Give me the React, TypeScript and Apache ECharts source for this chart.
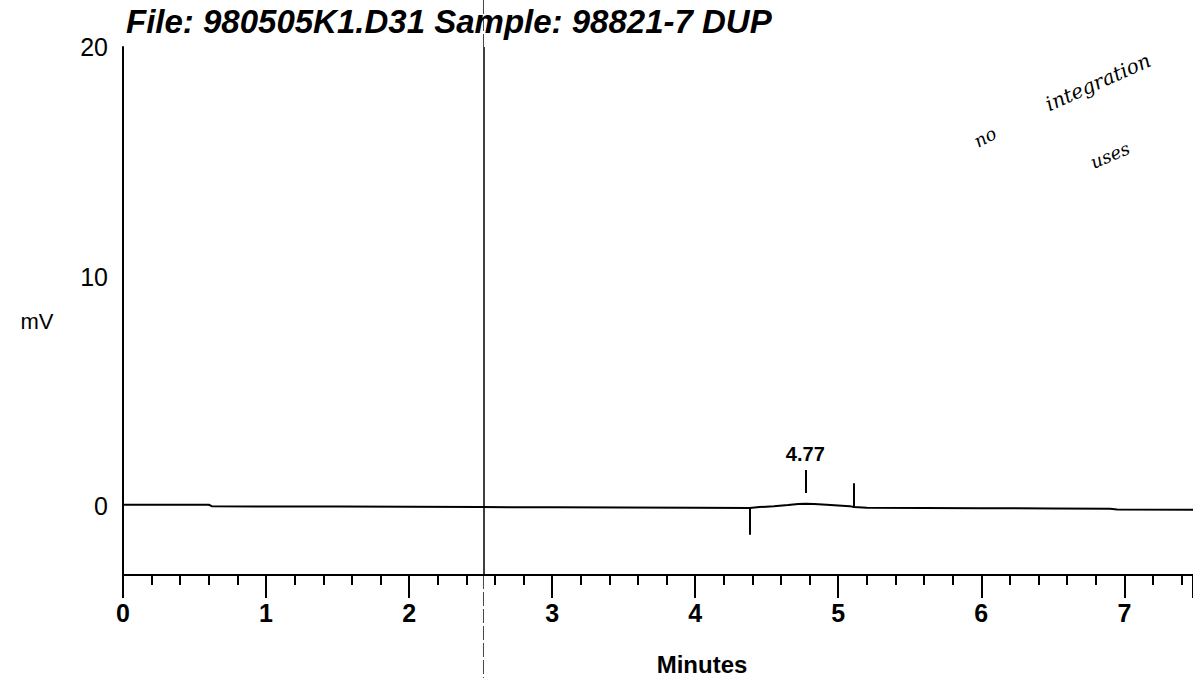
import React, { useEffect, useRef } from "react";
import * as echarts from "echarts";

const titleText = "File: 980505K1.D31 Sample: 98821-7 DUP";
const xAxisName = "Minutes";
const yAxisName = "mV";
const yLabelValues = [0, 10, 20];
const xMin = 0;
const xMax = 7.48;
const yMin = -3;
const yMax = 20;

// Chromatogram trace (minutes, mV)
const traceTimes = [0, 0.6, 0.62, 1.0, 1.5, 2.0, 2.5, 3.0, 3.5, 4.0, 4.38, 4.45, 4.55, 4.65, 4.72, 4.77, 4.83, 4.92, 5.0, 5.08, 5.11, 5.2, 5.6, 6.0, 6.5, 6.9, 6.95, 7.48];
const traceValues = [0.06, 0.06, 0.0, -0.02, -0.02, -0.03, -0.04, -0.05, -0.06, -0.07, -0.08, -0.04, 0.0, 0.05, 0.09, 0.1, 0.09, 0.06, 0.03, 0.0, -0.04, -0.07, -0.08, -0.09, -0.1, -0.11, -0.15, -0.16];

// Integration markers: time, bottom, top
const peakTime = [4.77];
const peakMarkFrom = [0.57];
const peakMarkTo = [1.57];
const peakLabels = ["4.77"];
const baselineMarkTimes = [4.38, 5.11];
const baselineMarkFrom = [-0.08, -0.06];
const baselineMarkTo = [-1.25, 1.0];

// Injection / event line
const eventTime = 2.52;

const handwritten = ["no", "integration", "uses"];

export default function App() {
  const ref = useRef<HTMLDivElement>(null);
  useEffect(() => {
    if (!ref.current) return;
    const chart = echarts.init(ref.current, null, { renderer: "svg" });
    const font = "'Liberation Sans', Arial, sans-serif";

    const markData: any[] = [];
    peakTime.forEach((t, i) => {
      markData.push([
        { coord: [t, peakMarkFrom[i]] },
        {
          coord: [t, peakMarkTo[i]],
          label: {
            show: true,
            position: "end",
            formatter: peakLabels[i],
            color: "#000",
            fontFamily: font,
            fontWeight: "bold",
            fontSize: 20,
            distance: 6,
          },
        },
      ]);
    });
    baselineMarkTimes.forEach((t, i) => {
      markData.push([{ coord: [t, baselineMarkFrom[i]] }, { coord: [t, baselineMarkTo[i]], label: { show: false } }]);
    });

    chart.setOption({
      animation: false,
      backgroundColor: "#fff",
      title: {
        text: titleText,
        left: 121,
        top: 0,
        textStyle: {
          fontFamily: font,
          fontStyle: "italic",
          fontWeight: "bold",
          fontSize: 33,
          color: "#000",
        },
      },
      grid: { left: 123, right: 0, top: 47, bottom: 103, containLabel: false },
      xAxis: {
        type: "value",
        min: xMin,
        max: xMax,
        interval: 1,
        axisLine: { show: true, onZero: false, lineStyle: { color: "#000", width: 2 } },
        axisTick: { show: true, inside: false, length: 23, lineStyle: { color: "#000", width: 2 } },
        minorTick: { show: true, splitNumber: 5, length: 10, lineStyle: { color: "#000", width: 2 } },
        splitLine: { show: false },
        minorSplitLine: { show: false },
        axisLabel: {
          color: "#000",
          fontFamily: font,
          fontWeight: "bold",
          fontSize: 25,
          margin: 25,
          showMaxLabel: false,
        },
      },
      yAxis: {
        type: "value",
        min: yMin,
        max: yMax,
        axisLine: { show: true, onZero: false, lineStyle: { color: "#000", width: 2 } },
        axisTick: { show: false },
        splitLine: { show: false },
        axisLabel: {
          customValues: yLabelValues,
          color: "#000",
          fontFamily: font,
          fontSize: 25,
          margin: 15,
        },
      },
      series: [
        {
          type: "line",
          data: traceTimes.map((t, i) => [t, traceValues[i]]),
          symbol: "none",
          lineStyle: { color: "#000", width: 2 },
          markLine: {
            silent: true,
            symbol: ["none", "none"],
            lineStyle: { color: "#000", width: 2, type: "solid" },
            label: { show: false },
            data: [
              ...markData,
              { xAxis: eventTime, lineStyle: { color: "#000", width: 1.5, type: "solid" }, label: { show: false } },
            ],
          },
        },
      ],
    });

    const ex = chart.convertToPixel({ gridIndex: 0 }, [eventTime, 0])[0];
    const top = chart.convertToPixel({ gridIndex: 0 }, [0, yMax])[1];
    const bottom = chart.convertToPixel({ gridIndex: 0 }, [0, yMin])[1];
    const hwFont = "'DejaVu Serif', serif";
    chart.setOption({
      graphic: [
        {
          type: "line",
          shape: { x1: ex, y1: 0, x2: ex, y2: top },
          style: { stroke: "#444", lineWidth: 1, lineDash: [14, 3] },
        },
        {
          type: "line",
          shape: { x1: ex, y1: bottom, x2: ex, y2: 678 },
          style: { stroke: "#444", lineWidth: 1, lineDash: [14, 3] },
        },
        {
          type: "text",
          x: 37,
          y: 321,
          style: { text: yAxisName, font: `22px ${font}`, fill: "#000", align: "center", verticalAlign: "middle" },
        },
        {
          type: "text",
          x: 702,
          y: 664,
          style: { text: xAxisName, font: `bold 24px ${font}`, fill: "#000", align: "center", verticalAlign: "middle" },
        },
        {
          type: "text",
          x: 985,
          y: 137,
          rotation: 0.5,
          style: { text: handwritten[0], font: `italic 18px ${hwFont}`, fill: "#000", align: "center", verticalAlign: "middle" },
        },
        {
          type: "text",
          x: 1098,
          y: 82,
          rotation: 0.42,
          style: { text: handwritten[1], font: `italic 20px ${hwFont}`, fill: "#000", align: "center", verticalAlign: "middle" },
        },
        {
          type: "text",
          x: 1110,
          y: 155,
          rotation: 0.4,
          style: { text: handwritten[2], font: `italic 18px ${hwFont}`, fill: "#000", align: "center", verticalAlign: "middle" },
        },
      ],
    });

    return () => chart.dispose();
  }, []);
  return (
    <div
      ref={ref}
      style={{ position: "fixed", left: 0, top: 0, width: 1193, height: 678, background: "#fff" }}
    />
  );
}
